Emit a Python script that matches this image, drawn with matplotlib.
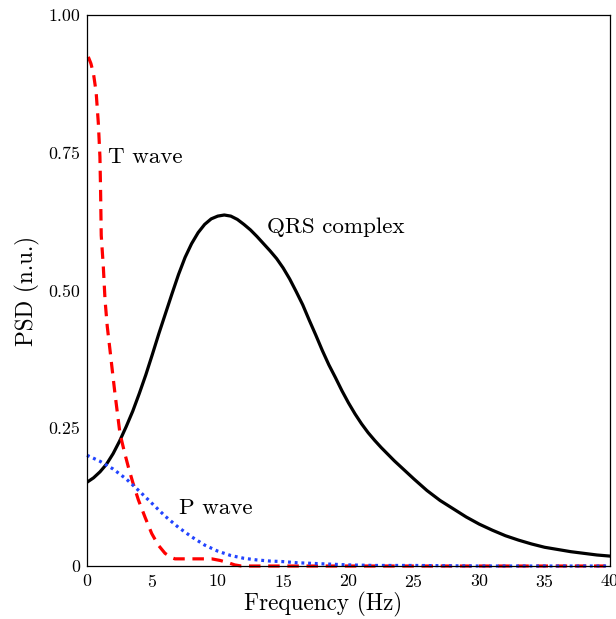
"""
PSD of ECG components: QRS complex, T wave and P wave.
"""

import matplotlib
matplotlib.use('Agg')
import matplotlib.pyplot as plt


# Frequency (Hz) / PSD (n.u.)
qrs_freq = [0, 0.5, 1, 1.5, 2, 2.5, 3, 3.5, 4, 4.5, 5, 5.5, 6, 6.5, 7, 7.5,
            8, 8.5, 9, 9.5, 10, 10.5, 11, 11.5, 12, 12.5, 13, 13.5, 14, 14.5,
            15, 15.5, 16, 16.5, 17, 17.5, 18, 18.5, 19, 19.5, 20, 20.5, 21,
            21.5, 22, 22.5, 23, 23.5, 24, 24.5, 25, 26, 27, 28, 29, 30, 31,
            32, 33, 34, 35, 36, 37, 38, 39, 40]
qrs_psd = [0.152, 0.160, 0.171, 0.185, 0.204, 0.227, 0.253, 0.281, 0.313,
           0.347, 0.384, 0.422, 0.458, 0.494, 0.529, 0.560, 0.585, 0.605,
           0.620, 0.630, 0.635, 0.637, 0.635, 0.629, 0.620, 0.610, 0.598,
           0.585, 0.572, 0.558, 0.541, 0.521, 0.498, 0.474, 0.446, 0.419,
           0.391, 0.365, 0.342, 0.318, 0.296, 0.276, 0.258, 0.242, 0.228,
           0.215, 0.203, 0.191, 0.180, 0.169, 0.158, 0.137, 0.119, 0.104,
           0.089, 0.076, 0.065, 0.055, 0.047, 0.040, 0.034, 0.030, 0.026,
           0.023, 0.020, 0.018]

t_freq = [0.1, 0.3, 0.5, 0.7, 0.87, 0.99, 1.04, 1.09, 1.25, 1.38, 1.55, 1.76,
          1.95, 2.14, 2.52, 2.85, 3.16, 3.5, 3.93, 4.45, 4.95, 5.45, 5.97,
          6.5, 6.73, 8.0, 9.54, 10.2, 10.8, 11.3, 11.8, 40]
t_psd = [0.924, 0.912, 0.893, 0.860, 0.803, 0.743, 0.682, 0.600, 0.543,
         0.483, 0.435, 0.392, 0.352, 0.313, 0.241, 0.208, 0.180, 0.152,
         0.120, 0.088, 0.059, 0.038, 0.023, 0.015, 0.013, 0.013, 0.013,
         0.010, 0.006, 0.002, 0.0, 0.0]

p_freq = [0, 1, 2, 3, 4, 5, 6, 7, 8, 9, 10, 11, 12, 13, 14, 15, 16, 17, 18,
          20, 22, 25, 30, 35, 40]
p_psd = [0.201, 0.190, 0.176, 0.158, 0.136, 0.113, 0.090, 0.070, 0.053,
         0.038, 0.027, 0.019, 0.014, 0.011, 0.009, 0.008, 0.006, 0.005,
         0.004, 0.002, 0.001, 0.001, 0.0, 0.0, 0.0]

x_ticks = [0, 5, 10, 15, 20, 25, 30, 35, 40]
y_ticks = [0, 0.25, 0.50, 0.75, 1.00]
y_tick_labels = ['0', '0.25', '0.50', '0.75', '1.00']


plt.rcParams['font.family'] = ['cmr10', 'DejaVu Serif']
plt.rcParams['axes.formatter.use_mathtext'] = True

fig = plt.figure(figsize=(6.16, 6.19), dpi=100)
ax = fig.add_axes([0.1412, 0.0856, 0.8491, 0.8902])

ax.plot(qrs_freq, qrs_psd, color='black', linewidth=2.3,
        solid_capstyle='round')
ax.plot(t_freq, t_psd, color='#ff0000', linewidth=2.3,
        linestyle=(0, (3.6, 2.4)), clip_on=False)
ax.plot(p_freq, p_psd, color='#2244ff', linewidth=2.3,
        linestyle=(0, (0.9, 1.2)), clip_on=False)

ax.text(1.6, 0.742, 'T wave', fontsize=16.6, va='center')
ax.text(13.8, 0.615, 'QRS complex', fontsize=16.6, va='center')
ax.text(7.0, 0.105, 'P wave', fontsize=16.6, va='center')

ax.set_xlim(0, 40)
ax.set_ylim(0, 1.0)
ax.set_xticks(x_ticks)
ax.set_yticks(y_ticks)
ax.set_yticklabels(y_tick_labels)
ax.tick_params(length=0, labelsize=12.8, pad=5)

ax.set_xlabel('Frequency (Hz)', fontsize=16.7, va='baseline')
ax.set_ylabel('PSD (n.u.)', fontsize=16.7, va='center')
ax.xaxis.set_label_coords(0.451, -0.0805)
ax.yaxis.set_label_coords(-0.1147, 0.5)

for sp in ax.spines.values():
    sp.set_linewidth(0.9)

fig.savefig('out.png', dpi=100)
